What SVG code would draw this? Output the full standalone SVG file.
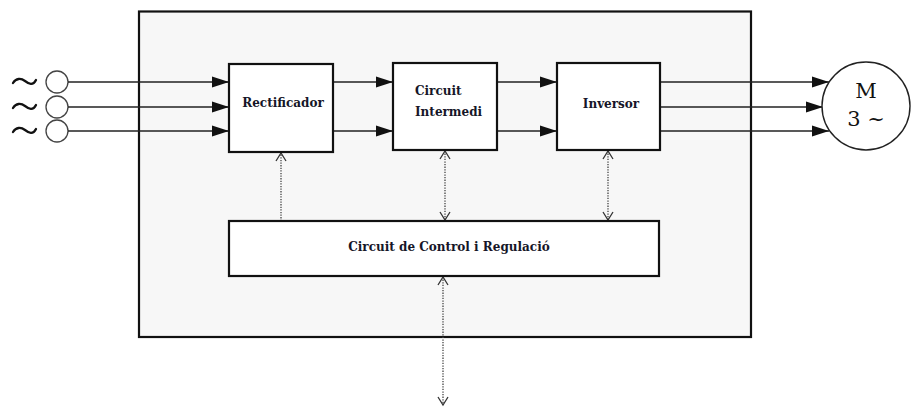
<svg xmlns="http://www.w3.org/2000/svg" width="911" height="407" viewBox="0 0 911 407">
<style>
.box{fill:#fff;stroke:#111;stroke-width:2.2}
.lbl{font-family:"DejaVu Serif",serif;font-weight:bold;font-size:12px;fill:#161628}
.wire{stroke:#222;stroke-width:1.4;fill:none}
.dot{stroke:#444;stroke-width:1.3;stroke-dasharray:1.3,1.3;fill:none}
.src{fill:#fff;stroke:#444;stroke-width:1.3}
.tl{fill:none;stroke:#111;stroke-width:2.3;stroke-linecap:round}
.mt{font-family:"DejaVu Serif",serif;font-size:21px;fill:#111}
</style>
<defs>
<marker id="ah" markerWidth="18" markerHeight="12" refX="17" refY="6" orient="auto" markerUnits="userSpaceOnUse">
<path d="M0,0.5 L17,6 L0,11.5 Z" fill="#111"/>
</marker>
<marker id="ov" markerWidth="12" markerHeight="12" refX="10" refY="6" orient="auto-start-reverse" markerUnits="userSpaceOnUse">
<path d="M2,1 L10,6 L2,11" fill="none" stroke="#333" stroke-width="1.3"/>
</marker>
</defs>
<rect id="frame" x="139" y="11.5" width="612" height="325.5" fill="#f7f7f7" stroke="#111" stroke-width="2.2"/>
<g id="sources">
<path class="tl" d="M13,83 C16,78 21,78 25,81 C29,84 33,86 36,80"/>
<path class="tl" d="M13,108 C16,103 21,103 25,106 C29,109 33,111 36,105"/>
<path class="tl" d="M13,132 C16,127 21,127 25,130 C29,133 33,135 36,129"/>
<circle class="src" cx="57" cy="82" r="11"/>
<circle class="src" cx="57" cy="107" r="11"/>
<circle class="src" cx="57" cy="131" r="11"/>
</g>
<g id="connectors">
<line class="wire" x1="68" y1="82" x2="229" y2="82" marker-end="url(#ah)"/>
<line class="wire" x1="68" y1="107" x2="229" y2="107" marker-end="url(#ah)"/>
<line class="wire" x1="68" y1="131" x2="229" y2="131" marker-end="url(#ah)"/>
<line class="wire" x1="333" y1="82" x2="393" y2="82" marker-end="url(#ah)"/>
<line class="wire" x1="333" y1="131" x2="393" y2="131" marker-end="url(#ah)"/>
<line class="wire" x1="497" y1="82" x2="557" y2="82" marker-end="url(#ah)"/>
<line class="wire" x1="497" y1="131" x2="557" y2="131" marker-end="url(#ah)"/>
<line class="wire" x1="660" y1="82" x2="829" y2="82" marker-end="url(#ah)"/>
<line class="wire" x1="660" y1="107" x2="823" y2="107" marker-end="url(#ah)"/>
<line class="wire" x1="660" y1="131" x2="829" y2="131" marker-end="url(#ah)"/>
<line class="dot" x1="281" y1="221" x2="281" y2="153" marker-end="url(#ov)"/>
<line class="dot" x1="445" y1="151" x2="445" y2="220" marker-start="url(#ov)" marker-end="url(#ov)"/>
<line class="dot" x1="608" y1="151" x2="608" y2="220" marker-start="url(#ov)" marker-end="url(#ov)"/>
<line class="dot" x1="443" y1="277" x2="443" y2="405" marker-start="url(#ov)" marker-end="url(#ov)"/>
</g>
<g id="rectificador">
<rect class="box" x="229" y="64" width="104" height="88"/>
<text class="lbl" x="283" y="107" text-anchor="middle">Rectificador</text>
</g>
<g id="circuit-intermedi">
<rect class="box" x="393" y="63" width="104" height="87"/>
<text class="lbl" x="415" y="95">Circuit</text>
<text class="lbl" x="415" y="116">Intermedi</text>
</g>
<g id="inversor">
<rect class="box" x="557" y="63" width="103" height="87"/>
<text class="lbl" x="611" y="108" text-anchor="middle">Inversor</text>
</g>
<g id="control">
<rect class="box" x="229" y="221" width="430" height="55"/>
<text class="lbl" x="449" y="251" text-anchor="middle">Circuit de Control i Regulació</text>
</g>
<g id="motor">
<circle cx="866" cy="106" r="44" fill="#fff" stroke="#222" stroke-width="1.4"/>
<text class="mt" x="866" y="98" text-anchor="middle">M</text>
<text class="mt" x="866" y="126" text-anchor="middle">3 ~</text>
</g>
</svg>
